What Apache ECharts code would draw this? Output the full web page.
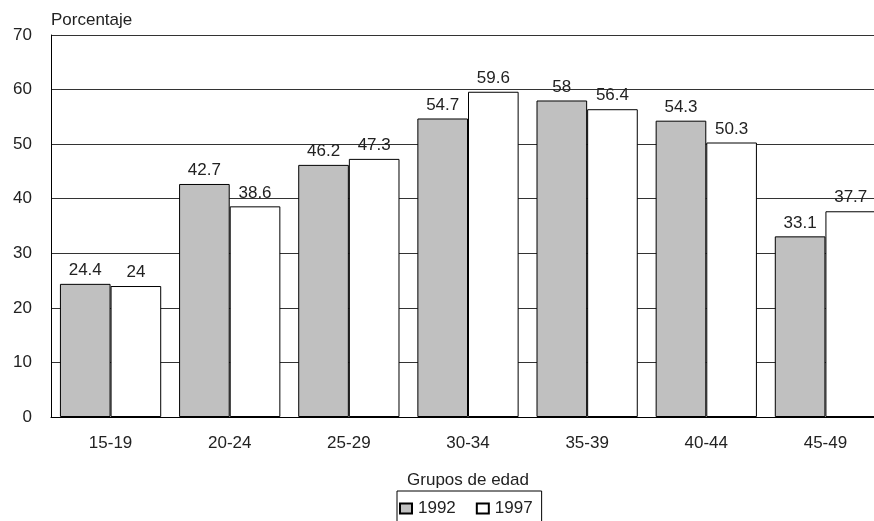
<!DOCTYPE html>
<html>
<head>
<meta charset="utf-8">
<script src="https://cdn.jsdelivr.net/npm/echarts@6/dist/echarts.min.js"></script>
<style>
html,body{margin:0;padding:0;background:#fff;}
#c{width:874px;height:521px;}
</style>
</head>
<body>
<div id="c"></div>
<script>
var categories = ['15-19','20-24','25-29','30-34','35-39','40-44','45-49'];
var values1992 = [24.4, 42.7, 46.2, 54.7, 58, 54.3, 33.1];
var values1997 = [24, 38.6, 47.3, 59.6, 56.4, 50.3, 37.7];
var seriesNames = ['1992', '1997'];
var yTicks = [0, 10, 20, 30, 40, 50, 60, 70];

var FONT = '"Liberation Sans", Arial, sans-serif';
var TXT = '#222';
var chart = echarts.init(document.getElementById('c'), null, {renderer: 'canvas'});
chart.setOption({
  animation: false,
  backgroundColor: '#fff',
  textStyle: {fontFamily: FONT},
  grid: {left: 51, top: 35, width: 834, height: 382, containLabel: false, outerBoundsMode: 'none'},
  legend: {
    left: 397, top: 491,
    data: seriesNames,
    icon: 'rect',
    itemWidth: 12, itemHeight: 10,
    itemGap: 20,
    borderColor: '#000', borderWidth: 1,
    padding: [9, 9, 6, 2],
    textStyle: {fontSize: 17, color: TXT, fontFamily: FONT, padding: [0, 0, 0, 1]}
  },
  xAxis: {
    type: 'category',
    data: categories,
    name: 'Grupos de edad',
    nameLocation: 'middle',
    nameGap: 55,
    nameTextStyle: {fontSize: 17, color: TXT, fontFamily: FONT},
    axisLine: {show: true, lineStyle: {color: '#000', width: 1}},
    axisTick: {show: false},
    axisLabel: {fontSize: 17, color: TXT, margin: 18, fontFamily: FONT},
    splitLine: {show: false}
  },
  yAxis: {
    type: 'value',
    min: yTicks[0], max: yTicks[yTicks.length - 1], interval: 10,
    name: 'Porcentaje',
    nameLocation: 'end',
    nameGap: 6,
    nameTextStyle: {fontSize: 17, color: TXT, fontFamily: FONT, align: 'left', padding: [0, 0, 0, 0]},
    axisLine: {show: true, lineStyle: {color: '#000', width: 1}},
    axisTick: {show: false},
    axisLabel: {fontSize: 17, color: TXT, margin: 19, fontFamily: FONT},
    splitLine: {show: true, lineStyle: {color: '#333', width: 1}}
  },
  series: [
    {
      name: seriesNames[0], type: 'bar', data: values1992,
      barGap: '0%', barCategoryGap: '15%',
      itemStyle: {color: '#c0c0c0', borderColor: '#000', borderWidth: 1},
      label: {show: true, position: 'top', distance: 5, fontSize: 17, color: TXT, fontFamily: FONT}
    },
    {
      name: seriesNames[1], type: 'bar', data: values1997,
      barGap: '0%', barCategoryGap: '15%',
      itemStyle: {color: '#ffffff', borderColor: '#000', borderWidth: 1},
      label: {show: true, position: 'top', distance: 5, fontSize: 17, color: TXT, fontFamily: FONT}
    }
  ]
});
</script>
</body>
</html>
